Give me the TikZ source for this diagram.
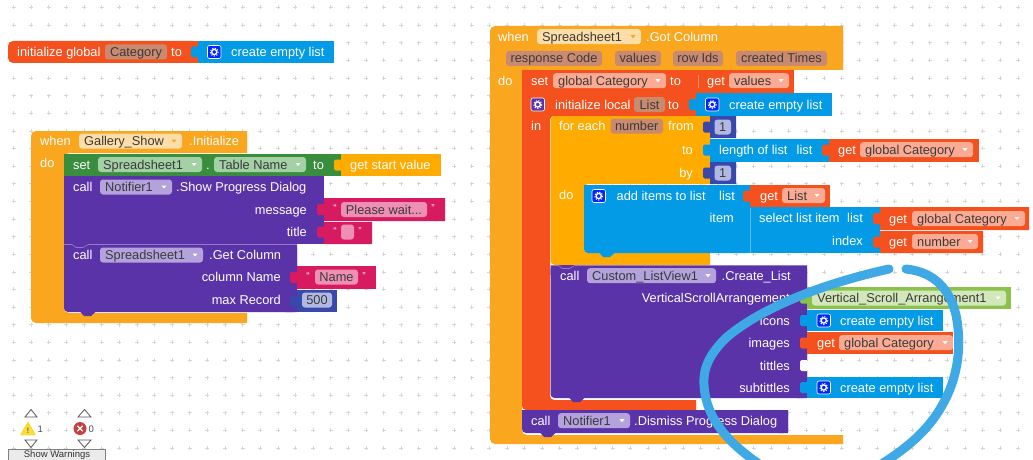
\documentclass[tikz,border=0pt]{standalone}
\usepackage{fontspec}
\setmainfont{Liberation Sans}
\definecolor{cWhen}{HTML}{FBA61F}
\definecolor{cLoop}{HTML}{FFAB00}
\definecolor{cRed}{HTML}{F4511E}
\definecolor{cBlue}{HTML}{039BE5}
\definecolor{cPur}{HTML}{5A33A8}
\definecolor{cGreen}{HTML}{388E3C}
\definecolor{cLime}{HTML}{8BC34A}
\definecolor{cPink}{HTML}{D81B60}
\definecolor{cNavy}{HTML}{3949AB}
\definecolor{fWhen}{HTML}{FDDDA8}
\definecolor{fRed}{HTML}{FBAB93}
\definecolor{fVar}{HTML}{C98A70}
\definecolor{fPur}{HTML}{B3A2DC}
\definecolor{fGreen}{HTML}{A3D0A5}
\definecolor{fLime}{HTML}{D3E8BA}
\definecolor{fPink}{HTML}{F08FB4}
\definecolor{fNavy}{HTML}{B1B8E2}
\definecolor{cTxt}{HTML}{3A3A3A}
\definecolor{cRing}{HTML}{3FA9E6}
\tikzset{
  lab/.style={inner sep=0pt,text=white,font=\fontsize{12.8}{14}\selectfont},
  dark/.style={inner sep=0pt,text=cTxt,font=\fontsize{12.8}{14}\selectfont},
}
\newcommand{\tl}[3]{\node[lab,anchor=base west] at (#1,#2+4.5) {#3};}
\newcommand{\tr}[3]{\node[lab,anchor=base east] at (#1,#2+4.5) {#3};}
\newcommand{\fv}[5]{\fill[#4,rounded corners=3pt] (#1,#3-7.5) rectangle (#2,#3+7.5);
  \node[dark,anchor=base] at ({(#1+#2)/2},#3+4.5) {#5};}
\newcommand{\fd}[6]{\fill[#4,rounded corners=3pt] (#1,#3-7.5) rectangle (#2,#3+7.5);
  \node[dark,anchor=base west] at (#1+5,#3+4.5) {#6};
  \fill[#5] (#2-10.5,#3-1.5) -- (#2-5.5,#3-1.5) -- (#2-8,#3+1.5) -- cycle;}
\newcommand{\sockettab}[3]{\fill[#3,rounded corners=1.5pt] (#1-7,#2-5.5) rectangle (#1+1,#2+5.5);}
\newcommand{\qq}[2]{\node[lab,anchor=base,font=\fontsize{10}{12}\selectfont] at (#1,#2+2) {“};}
\newcommand{\qe}[2]{\node[lab,anchor=base,font=\fontsize{10}{12}\selectfont] at (#1,#2+2) {”};}
\newcommand{\gear}[3]{\fill[#3,draw=white,line width=.6pt,rounded corners=2pt] (#1,#2-6.5) rectangle (#1+13.5,#2+6.5);
  \draw[white,line width=1.3pt] (#1+6.75,#2) circle (2.6);
  \draw[white,line width=1pt,dash pattern=on 1.2pt off 1.5pt] (#1+6.75,#2) circle (4);}
\newcommand{\bump}[3]{\fill[#3] (#1+8,#2-.5) -- (#1+12,#2+4) -- (#1+19,#2+4) -- (#1+24,#2-.5) -- cycle;}
\newcommand{\seam}[3]{\draw[white,opacity=.35,line width=.6pt] (#1,#3) -- (#1+8,#3) -- (#1+12,#3+3) -- (#1+19,#3+3) -- (#1+24,#3) -- (#2,#3);}
\begin{document}
\begin{tikzpicture}[x=1pt,y=-1pt]
\useasboundingbox (0,0) rectangle (1033,460);
\clip (0,0) rectangle (1033,460);
\fill[white] (0,0) rectangle (1033,460);
% workspace grid
\foreach \i in {0,...,58}{\foreach \j in {0,...,25}{
  \pgfmathsetmacro{\px}{13.5+17.62*\i}\pgfmathsetmacro{\py}{7.5+17.62*\j}
  \draw[black!16,line width=.6pt] (\px-2,\py) -- (\px+2,\py) (\px,\py-2) -- (\px,\py+2);
}}
% ---- initialize global
\fill[cRed,rounded corners=5pt] (8,41) -- (8,63) -- (198,63) -- (198,41) -- cycle;
\fill[cRed] (190,41) rectangle (198,63);
\fill[cBlue] (198,41) rectangle (334,63);
\sockettab{198}{52}{cBlue}
\tl{17}{52}{initialize global}
\fv{105}{167}{52}{fVar}{Category}
\tl{171}{52}{to}
\gear{207.5}{52}{blue!75!cBlue}
\tl{231}{52}{create empty list}
% ---- Gallery_Show.Initialize
\fill[cWhen,rounded corners=5pt] (31,131) -- (247,131) -- (247,153) -- (64,153) -- (64,313) -- (247,313) -- (247,323) -- (31,323) -- cycle;
\fill[cWhen] (240,131) rectangle (247,153) (240,313) rectangle (247,323);
\tl{40}{141}{when}
\fd{79}{182}{141}{fWhen}{cWhen}{Gallery\_Show}
\tl{189}{141}{.Initialize}
\tl{40}{163}{do}
\fill[cGreen] (64,154) rectangle (341,176);
\fill[cLoop] (341,154) rectangle (441,176);
\sockettab{341}{165}{cLoop}
\tl{73}{164.5}{set}
\fd{98}{202}{164.5}{fGreen}{white}{Spreadsheet1}
\tl{206}{164.5}{.}
\fd{214}{306}{164.5}{fGreen}{white}{Table Name}
\tl{313}{164.5}{to}
\tl{350}{164.5}{get start value}
\fill[cPur] (64,176) rectangle (324,244);
\fill[cPink] (324,198) rectangle (445,221) (324,222) rectangle (372,244);
\sockettab{324}{209.5}{cPink}
\sockettab{324}{232}{cPink}
\tl{73}{187}{call}
\fd{100}{172}{187}{fPur}{white}{Notifier1}
\tl{176}{187}{.Show Progress Dialog}
\tr{307}{209.5}{message}
\qq{335}{209.5}
\fv{341}{427}{209.5}{fPink}{Please wait...}
\qe{433}{209.5}
\tr{307}{232}{title}
\qq{335}{232}
\fv{341}{354}{232}{fPink}{}
\qe{360}{232}
\fill[cPur,rounded corners=4pt] (64,244) -- (297,244) -- (297,312) -- (64,312) -- cycle;
\fill[cPur] (64,244) rectangle (80,260) (285,244) rectangle (297,312);
\bump{72}{312}{cPur}
\seam{64}{297}{244.5}
\fill[cPink] (297,266) rectangle (376,289);
\fill[cNavy] (297,290) rectangle (337,312);
\sockettab{297}{277.5}{cPink}
\sockettab{297}{301}{cNavy}
\tl{73}{255}{call}
\fd{100}{203}{255}{fPur}{white}{Spreadsheet1}
\tl{209}{255}{.Get Column}
\tr{281}{277}{column Name}
\qq{308}{277}
\fv{315}{358}{277}{fPink}{Name}
\qe{364}{277}
\tr{281}{300}{max Record}
\fv{302}{332}{300}{fNavy}{500}
% ---- Spreadsheet1.Got Column
\fill[cWhen,rounded corners=5pt] (490,26) -- (843,26) -- (843,70) -- (522,70) -- (522,435) -- (843,435) -- (843,444) -- (490,444) -- cycle;
\fill[cWhen] (835,26) rectangle (843,70) (835,435) rectangle (843,444);
\tl{498}{36.7}{when}
\fd{537}{641}{36.7}{fWhen}{cWhen}{Spreadsheet1}
\tl{646}{36.7}{.Got Column}
\fv{506}{602}{58.5}{fVar}{response Code}
\fv{615}{661}{58.5}{fVar}{values}
\fv{673}{723}{58.5}{fVar}{row Ids}
\fv{736}{827}{58.5}{fVar}{created Times}
\tl{498}{80.7}{do}
% set global
\fill[cRed] (522,70) rectangle (794,93);
\draw[white,opacity=.4,line width=.5pt] (698,75) -- (698,88);
\tl{531}{80.7}{set}
\fd{553}{666}{80.7}{fRed}{white}{global Category}
\tl{670}{80.7}{to}
\tl{707}{80.7}{get}
\fd{729}{789}{80.7}{fRed}{white}{values}
% initialize local
\fill[cRed,rounded corners=4pt] (522,93) -- (696,93) -- (696,116) -- (550,116) -- (550,400) -- (696,400) -- (696,410) -- (522,410) -- cycle;
\fill[cRed] (522,90) rectangle (696,100) (690,93) rectangle (696,116) (690,400) rectangle (696,410);
\fill[cBlue] (696,93) rectangle (832,116);
\sockettab{696}{104.5}{cBlue}
\gear{531}{104.5}{cPur}
\tl{555}{104.5}{initialize local}
\fv{634}{665}{104.5}{fVar}{List}
\tl{668}{104.5}{to}
\gear{705.5}{104.5}{blue!75!cBlue}
\tl{729}{104.5}{create empty list}
\tl{531}{125.7}{in}
% for each
\fill[cLoop,rounded corners=4pt] (550.5,116) -- (710,116) -- (710,184) -- (584,184) -- (584,253) -- (710,253) -- (710,265) -- (550.5,265) -- cycle;
\fill[cLoop] (700,116) rectangle (710,184) (700,253) rectangle (710,265);
\tl{559}{126}{for each}
\fv{610.5}{663}{126}{fVar}{number}
\tl{668}{126}{from}
\fill[cNavy] (710,116) rectangle (736,138) (710,162) rectangle (736,184);
\sockettab{710}{127}{cNavy}
\sockettab{710}{173}{cNavy}
\fv{714.5}{731}{127}{fNavy}{1}
\tr{693}{149.7}{to}
\fill[cBlue] (710,139) rectangle (829,162);
\sockettab{710}{150}{cBlue}
\tl{719}{149.7}{length of list}
\tl{796.5}{149.7}{list}
\fill[cRed] (829,139) rectangle (979,162);
\sockettab{829}{150}{cRed}
\tl{838}{149.7}{get}
\fd{860}{973}{149.7}{fRed}{white}{global Category}
\tr{693}{172.7}{by}
\fv{714.5}{731}{173}{fNavy}{1}
\tl{559}{194.7}{do}
% add items
\fill[cBlue,rounded corners=4pt] (584,185) -- (750,185) -- (750,253) -- (584,253) -- cycle;
\fill[cBlue] (740,185) rectangle (750,253);
\fill[cBlue] (584,185) rectangle (595,195);
\fill[cBlue] (740,207) rectangle (880,253);
\bump{591}{253}{cBlue}
\draw[white,opacity=.35,line width=.5pt] (750.5,208) -- (750.5,253);
\gear{592}{196}{blue!75!cBlue}
\tl{616.5}{195.5}{add items to list}
\tl{719}{195.5}{list}
\fill[cRed] (750,185) rectangle (830,207);
\sockettab{750}{196}{cRed}
\tl{760}{195.5}{get}
\fd{782}{825}{195.5}{fRed}{white}{List}
\tr{734}{218}{item}
\tl{759}{218}{select list item}
\tl{847}{218}{list}
\fill[cRed] (880,207) rectangle (1029,230) (880,231) rectangle (983,253);
\sockettab{880}{218.5}{cRed}
\sockettab{880}{242}{cRed}
\tl{889}{218.5}{get}
\fd{912}{1025}{218.5}{fRed}{white}{global Category}
\tr{863}{241}{index}
\tl{889}{241.5}{get}
\fd{912}{978}{241.5}{fRed}{white}{number}
% Create_List
\fill[cPur,rounded corners=4pt] (550.5,265) -- (807,265) -- (807,398) -- (550.5,398) -- cycle;
\fill[cPur] (550.5,265) rectangle (560,275) (797,265) rectangle (807,398);
\bump{561}{398}{cPur}
\seam{550.5}{807}{265.5}
\tl{560}{275.7}{call}
\fd{587}{716}{275.7}{fPur}{white}{Custom\_ListView1}
\tl{721.5}{275.7}{.Create\_List}
\tr{790}{297.5}{VerticalScrollArrangement}
\fill[cLime] (807,287) rectangle (1011,309);
\sockettab{807}{298}{cLime}
\fd{812}{1006}{298}{fLime}{white}{Vertical\_Scroll\_Arrangement1}
\tr{790}{320.7}{icons}
\fill[cBlue] (807,310) rectangle (943,331);
\sockettab{807}{320.5}{cBlue}
\gear{817}{320.5}{blue!75!cBlue}
\tl{840}{320.5}{create empty list}
\tr{790}{342.7}{images}
\fill[cRed] (807,332) rectangle (953,354);
\sockettab{807}{343}{cRed}
\tl{817}{342.7}{get}
\fd{839}{953}{342.7}{fRed}{white}{global Category}
\tr{790}{365.7}{tittles}
\sockettab{807}{365.5}{white}
\tr{790}{387.7}{subtittles}
\fill[cBlue] (807,377) rectangle (943,398);
\sockettab{807}{387.5}{cBlue}
\gear{817}{387.5}{blue!75!cBlue}
\tl{840}{387.5}{create empty list}
% Dismiss
\fill[cPur,rounded corners=4pt] (522,410) -- (788,410) -- (788,433) -- (522,433) -- cycle;
\fill[cPur] (522,410) rectangle (535,420) (778,410) rectangle (788,433);
\bump{532}{433}{cPur}
\tl{531}{420.7}{call}
\fd{558}{630}{420.7}{fPur}{white}{Notifier1}
\tl{634}{420.7}{.Dismiss Progress Dialog}
% hand-drawn ring
\draw[cRing,line width=9pt,line cap=round] (889,269) .. controls (830,282) and (765,305) .. (727,337) .. controls (708,355) and (703,370) .. (704,385) .. controls (706,420) and (730,445) .. (765,468);
\draw[cRing,line width=9pt,line cap=round] (906,269) .. controls (935,272) and (950,290) .. (956,315) .. controls (962,345) and (958,375) .. (945,400) .. controls (930,430) and (905,450) .. (875,468);
% warnings
\draw[black!65,line width=.8pt,fill=white] (25,417) -- (31,409.5) -- (37,417) -- cycle;
\draw[black!65,line width=.8pt,fill=white] (78,417) -- (84.5,409.5) -- (91,417) -- cycle;
\draw[black!65,line width=.8pt,fill=white] (25,440) -- (31,447.5) -- (37,440) -- cycle;
\draw[black!65,line width=.8pt,fill=white] (78,440) -- (84.5,447.5) -- (91,440) -- cycle;
\fill[yellow!75!orange!80!white,draw=yellow!60!orange,line width=.4pt,rounded corners=.6pt] (20.5,435) -- (28,422) -- (35.5,435) -- cycle;
\node[inner sep=0pt,text=black!60,font=\fontsize{8}{9}\selectfont\bfseries] (warnmark) at (28,430.5) {!};
\node[inner sep=0pt,anchor=west,text=black!70,font=\fontsize{9.5}{11}\selectfont] (warncount) at (37.5,429) {1};
\fill[red!70!black!75!white] (80,428.5) circle (6.5);
\draw[white,line width=1.4pt] (77.3,425.8) -- (82.7,431.2) (77.3,431.2) -- (82.7,425.8);
\node[inner sep=0pt,anchor=west,text=black!70,font=\fontsize{9.5}{11}\selectfont] (errcount) at (88.5,429) {0};
\draw[black!50,line width=.8pt,fill=black!8] (8.5,449.5) rectangle (105,470);
\node[inner sep=0pt,anchor=base,text=black!80,font=\fontsize{9.5}{11}\selectfont] (warnbtn) at (57,457) {Show Warnings};
\end{tikzpicture}
\end{document}
